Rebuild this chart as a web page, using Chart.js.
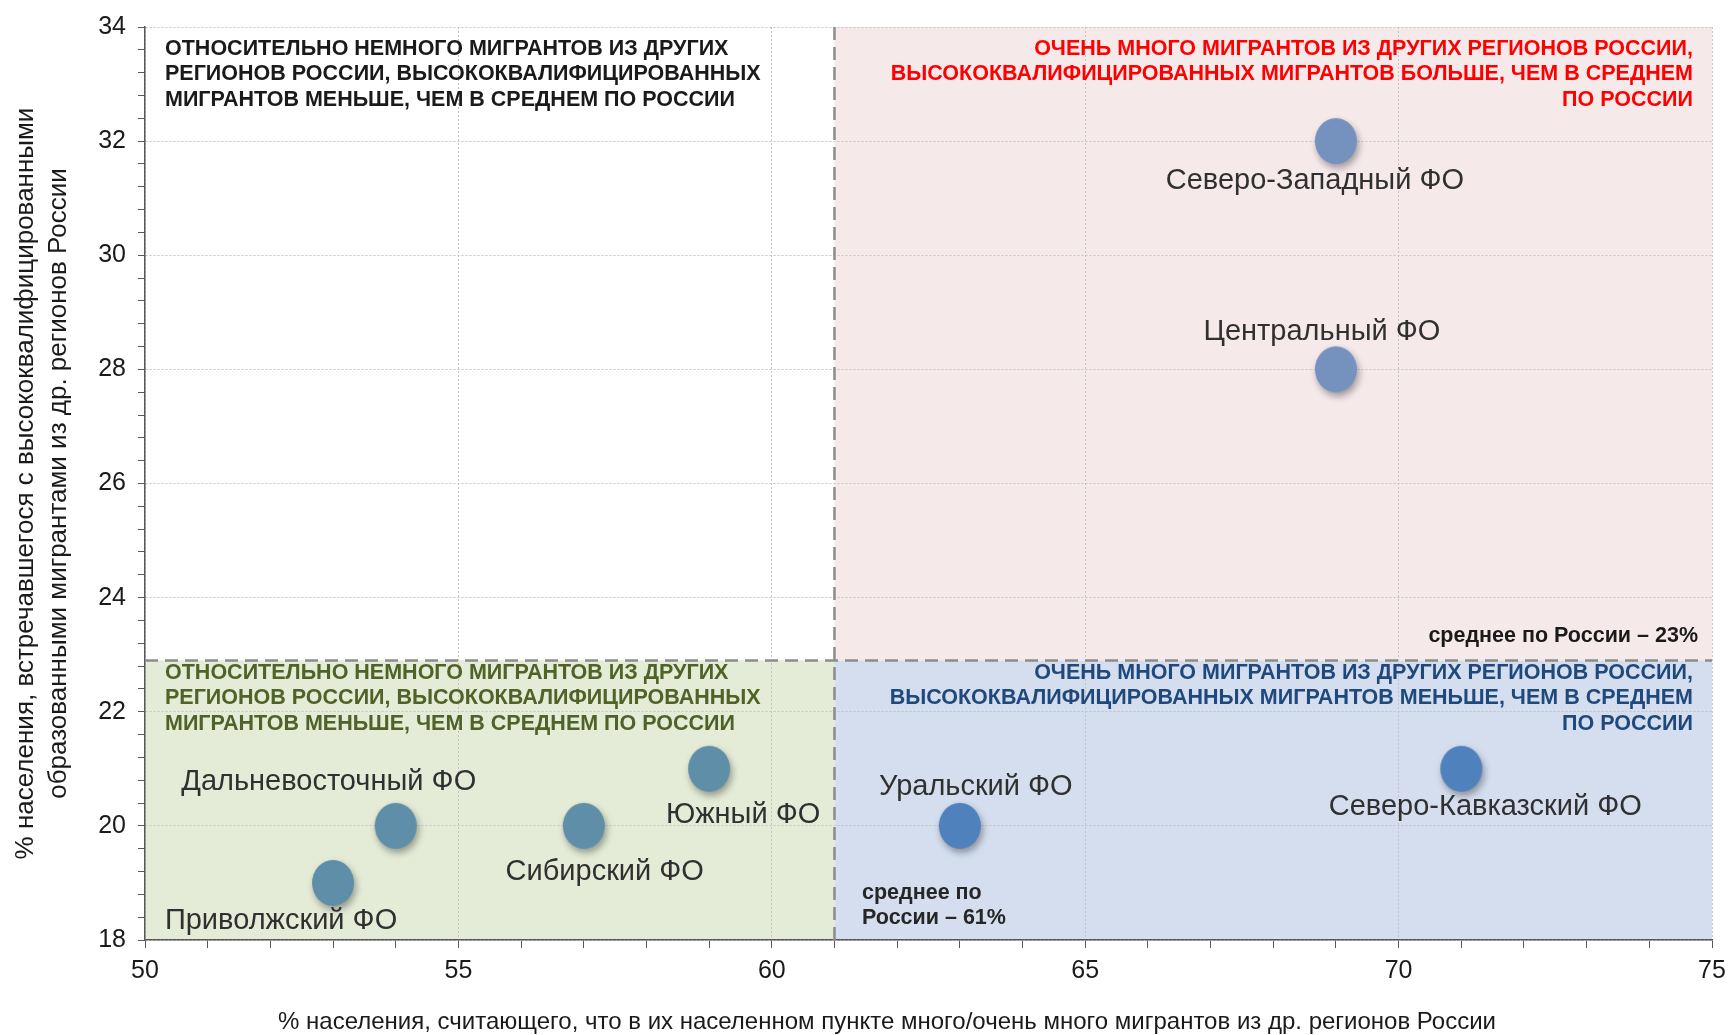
<!DOCTYPE html>
<html>
<head>
<meta charset="utf-8">
<script src="https://cdn.jsdelivr.net/npm/chart.js@4.4.1/dist/chart.umd.min.js"></script>
<style>
  html, body { margin: 0; padding: 0; background: #fff; }
  #wrap { width: 1735px; height: 1035px; position: relative; }
</style>
</head>
<body>
<div id="wrap"><canvas id="chart"></canvas></div>
<script>
// data
const regions = ['Северо-Западный ФО', 'Центральный ФО', 'Северо-Кавказский ФО', 'Уральский ФО',
                 'Южный ФО', 'Сибирский ФО', 'Дальневосточный ФО', 'Приволжский ФО']
const manyMigrants = [69, 69, 71, 63, 59, 57, 54, 53]      // x, %
const metSkilled = [32, 28, 21, 20, 21, 20, 20, 19]        // y, %
const avgManyMigrants = 61
const avgMetSkilled = 22.9
const xTickLabels = [50, 55, 60, 65, 70, 75]
const yTickLabels = [18, 20, 22, 24, 26, 28, 30, 32, 34]

const FONT = '"Liberation Sans", Arial, sans-serif'

// point colour by quadrant
function pointColor(x, y) {
    if (y > avgMetSkilled) return '#7592bf'
    if (x > avgManyMigrants) return '#4f81bd'
    return '#5f8ea8'
}

// ellipse sprites (markers are slightly taller than wide in the original)
function ellipseSprite(color) {
    const c = document.createElement('canvas')
    c.width = 46; c.height = 50
    const g = c.getContext('2d')
    g.fillStyle = color
    g.beginPath()
    g.ellipse(23, 25, 21, 23, 0, 0, Math.PI * 2)
    g.fill()
    return c
}
const sprites = manyMigrants.map((x, i) => ellipseSprite(pointColor(x, metSkilled[i])))

// label offsets from the marker centre, px
const labelOffsets = [[-21, 40], [-14, -37], [24, 38], [16, -39], [34, 46], [21, 46], [-67, -44], [-52, 38]]

const quadrantPlugin = {
    id: 'quadrants',
    beforeDraw(chart) {
        const { ctx, scales: { x, y } } = chart
        const xl = x.getPixelForValue(50), xm = x.getPixelForValue(avgManyMigrants), xr = x.getPixelForValue(75)
        const yt = y.getPixelForValue(34), ym = y.getPixelForValue(avgMetSkilled), yb = y.getPixelForValue(18)
        ctx.save()
        ctx.fillStyle = '#f5e9ea'
        ctx.fillRect(xm, yt, xr - xm, ym - yt)
        ctx.fillStyle = '#e4ebd6'
        ctx.fillRect(xl, ym, xm - xl, yb - ym)
        ctx.fillStyle = '#d4deee'
        ctx.fillRect(xm, ym, xr - xm, yb - ym)
        ctx.restore()
    },
    beforeDatasetsDraw(chart) {
        const { ctx, scales: { x, y } } = chart
        const xm = x.getPixelForValue(avgManyMigrants)
        const ym = y.getPixelForValue(avgMetSkilled)
        ctx.save()
        ctx.strokeStyle = '#8c8c8c'
        ctx.lineWidth = 2.5
        ctx.setLineDash([13, 7])
        ctx.beginPath()
        ctx.moveTo(x.getPixelForValue(50), ym)
        ctx.lineTo(x.getPixelForValue(75), ym)
        ctx.moveTo(xm, y.getPixelForValue(34))
        ctx.lineTo(xm, y.getPixelForValue(18))
        ctx.stroke()
        ctx.restore()
    },
    beforeDatasetDraw(chart) {
        const ctx = chart.ctx
        ctx.save()
        ctx.shadowColor = 'rgba(0,0,0,0.35)'
        ctx.shadowBlur = 7
        ctx.shadowOffsetX = 2
        ctx.shadowOffsetY = 4
    },
    afterDatasetDraw(chart) {
        chart.ctx.restore()
    },
    afterDatasetsDraw(chart) {
        const { ctx, scales: { x, y } } = chart
        ctx.save()
        ctx.textBaseline = 'middle'

        // region names
        ctx.font = '29px ' + FONT
        ctx.fillStyle = '#303030'
        ctx.textAlign = 'center'
        regions.forEach((name, i) => {
            const px = x.getPixelForValue(manyMigrants[i]) + labelOffsets[i][0]
            const py = y.getPixelForValue(metSkilled[i]) + labelOffsets[i][1]
            ctx.fillText(name, px, py)
        })

        // quadrant captions
        function block(lines, px, py, align, color, font) {
            ctx.font = font
            ctx.fillStyle = color
            ctx.textAlign = align
            lines.forEach((l, k) => ctx.fillText(l, px, py + k * 25.5))
        }
        const bold = 'bold 21.5px ' + FONT
        const fewLines = ['ОТНОСИТЕЛЬНО НЕМНОГО МИГРАНТОВ ИЗ ДРУГИХ',
                          'РЕГИОНОВ РОССИИ, ВЫСОКОКВАЛИФИЦИРОВАННЫХ',
                          'МИГРАНТОВ МЕНЬШЕ, ЧЕМ В СРЕДНЕМ ПО РОССИИ']
        block(fewLines, 165, 49, 'left', '#1a1a1a', bold)
        block(['ОЧЕНЬ МНОГО МИГРАНТОВ ИЗ ДРУГИХ РЕГИОНОВ РОССИИ,',
               'ВЫСОКОКВАЛИФИЦИРОВАННЫХ МИГРАНТОВ БОЛЬШЕ, ЧЕМ В СРЕДНЕМ',
               'ПО РОССИИ'], 1693, 49, 'right', '#ff0000', bold)
        block(fewLines, 165, 673, 'left', '#4f6228', bold)
        block(['ОЧЕНЬ МНОГО МИГРАНТОВ ИЗ ДРУГИХ РЕГИОНОВ РОССИИ,',
               'ВЫСОКОКВАЛИФИЦИРОВАННЫХ МИГРАНТОВ МЕНЬШЕ, ЧЕМ В СРЕДНЕМ',
               'ПО РОССИИ'], 1693, 673, 'right', '#1f497d', bold)
        block(['среднее по России – ' + Math.round(avgMetSkilled) + '%'], 1698, 636, 'right', '#1a1a1a', 'bold 21.5px ' + FONT)
        block(['среднее по', 'России – ' + avgManyMigrants + '%'], 862, 893, 'left', '#262626', 'bold 21.5px ' + FONT)

        // x axis title (sits a bit left of the plot centre in the original)
        block(['% населения, считающего, что в их населенном пункте много/очень много мигрантов из др. регионов России'],
              887, 1022, 'center', '#1a1a1a', '24px ' + FONT)
        ctx.restore()
    }
}

const ctx = document.getElementById('chart')
new Chart(ctx, {
    type: 'scatter',
    data: {
        labels: regions,
        datasets: [{
            data: manyMigrants.map((x, i) => ({ x: x, y: metSkilled[i] })),
            pointStyle: sprites,
            pointRadius: 22,
            pointHoverRadius: 22
        }]
    },
    options: {
        responsive: true,
        maintainAspectRatio: false,
        animation: false,
        events: [],
        layout: { padding: { left: 0, right: 15, top: 21, bottom: 0 } },
        plugins: {
            legend: { display: false },
            tooltip: { enabled: false }
        },
        scales: {
            x: {
                type: 'linear',
                min: 50,
                max: 75,
                afterFit: s => { s.height = 95 },
                ticks: {
                    stepSize: 1,
                    autoSkip: false,
                    maxRotation: 0,
                    padding: 8,
                    color: '#1a1a1a',
                    font: { family: FONT, size: 25 },
                    callback: v => xTickLabels.includes(v) ? v : ''
                },
                grid: {
                    color: c => (c.tick && xTickLabels.includes(c.tick.value)) ? '#c4c4c4' : 'rgba(0,0,0,0)',
                    tickColor: '#595959',
                    tickLength: 8,
                    lineWidth: 1
                },
                border: { color: '#595959', width: 1.5, dash: [2, 2] }
            },
            y: {
                type: 'linear',
                min: 18,
                max: 34,
                afterFit: s => { s.width = 145 },
                ticks: {
                    stepSize: 0.4,
                    autoSkip: false,
                    padding: 12,
                    color: '#1a1a1a',
                    font: { family: FONT, size: 25 },
                    callback: v => {
                        const r = Math.round(v)
                        return (Math.abs(v - r) < 1e-6 && yTickLabels.includes(r)) ? r : ''
                    }
                },
                grid: {
                    color: c => {
                        if (!c.tick) return 'rgba(0,0,0,0)'
                        const r = Math.round(c.tick.value)
                        return (Math.abs(c.tick.value - r) < 1e-6 && yTickLabels.includes(r)) ? '#c4c4c4' : 'rgba(0,0,0,0)'
                    },
                    tickColor: '#595959',
                    tickLength: 7,
                    lineWidth: 1
                },
                border: { color: '#595959', width: 1.5, dash: [2, 2] },
                title: {
                    display: true,
                    text: ['% населения, встречавшегося с высококвалифицированными',
                           'образованными мигрантами из др. регионов России'],
                    color: '#1a1a1a',
                    font: { family: FONT, size: 26, lineHeight: 1.27 },
                    padding: { top: 9, bottom: 0 }
                }
            }
        }
    },
    plugins: [quadrantPlugin]
})
</script>
</body>
</html>
